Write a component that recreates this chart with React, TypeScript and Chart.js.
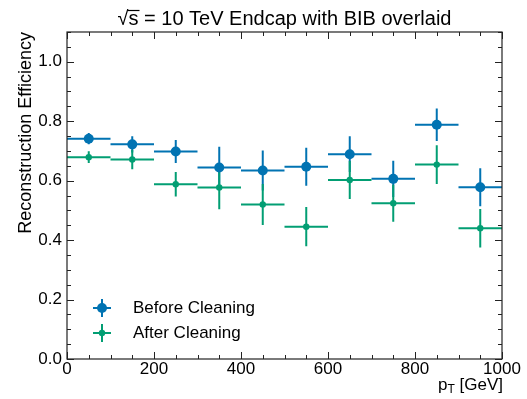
import React, { useEffect, useRef } from "react";
import { Chart, registerables } from "chart.js";

Chart.register(...registerables);

const binCenters = [50, 150, 250, 350, 450, 550, 650, 750, 850, 950];
const binHalfWidth = 50;
const beforeValues = [0.741, 0.722, 0.698, 0.644, 0.634, 0.647, 0.689, 0.606, 0.788, 0.578];
const beforeErrors = [0.019, 0.027, 0.039, 0.07, 0.067, 0.064, 0.06, 0.061, 0.055, 0.064];
const afterValues = [0.679, 0.671, 0.588, 0.577, 0.52, 0.445, 0.602, 0.524, 0.654, 0.44];
const afterErrors = [0.02, 0.033, 0.041, 0.073, 0.069, 0.066, 0.064, 0.062, 0.065, 0.065];
const seriesLabels = ["Before Cleaning", "After Cleaning"];
const seriesColors = ["#0173B2", "#029E73"];
const markerRadii = [5, 3.2];
const xMajorTicks = [0, 200, 400, 600, 800, 1000];
const xMinorStep = 50;
const yMinorStep = 0.05;
const yMajorStep = 0.2;
const titleParts = ["\u221A", "s", " = 10 TeV Endcap with BIB overlaid"];
const yTitle = "Reconstruction Efficiency";
const xTitleParts = ["p", "T", " [GeV]"];

const FONT = '"Liberation Sans", Arial, sans-serif';

export default function App() {
  const ref = useRef<HTMLCanvasElement | null>(null);
  useEffect(() => {
    const canvas = ref.current;
    if (!canvas) return;
    const series = [
      { values: beforeValues, errors: beforeErrors },
      { values: afterValues, errors: afterErrors },
    ];

    const errorPlugin = {
      id: "errbars",
      beforeDatasetsDraw(chart: any) {
        const ctx = chart.ctx;
        const xs = chart.scales.x;
        const ys = chart.scales.y;
        ctx.save();
        ctx.lineWidth = 2;
        series.forEach((s, si) => {
          ctx.strokeStyle = seriesColors[si];
          s.values.forEach((v, i) => {
            const cx = binCenters[i];
            ctx.beginPath();
            ctx.moveTo(xs.getPixelForValue(cx - binHalfWidth), ys.getPixelForValue(v));
            ctx.lineTo(xs.getPixelForValue(cx + binHalfWidth), ys.getPixelForValue(v));
            ctx.moveTo(xs.getPixelForValue(cx), ys.getPixelForValue(v - s.errors[i]));
            ctx.lineTo(xs.getPixelForValue(cx), ys.getPixelForValue(v + s.errors[i]));
            ctx.stroke();
          });
        });
        ctx.restore();
      },
      afterDraw(chart: any) {
        const ctx = chart.ctx;
        const xs = chart.scales.x;
        const ys = chart.scales.y;
        const a = chart.chartArea;
        ctx.save();
        // frame
        ctx.strokeStyle = "#222";
        ctx.lineWidth = 1.2;
        ctx.strokeRect(a.left, a.top, a.right - a.left, a.bottom - a.top);
        // ticks
        ctx.lineWidth = 1;
        ctx.beginPath();
        for (let v = xs.min; v <= xs.max + 1e-9; v += xMinorStep) {
          const px = Math.round(xs.getPixelForValue(v)) + 0.5;
          const major = xMajorTicks.includes(Math.round(v));
          const len = major ? 7 : 4;
          ctx.moveTo(px, a.bottom);
          ctx.lineTo(px, a.bottom - len);
          ctx.moveTo(px, a.top);
          ctx.lineTo(px, a.top + len);
        }
        for (let k = 0; k * yMinorStep <= ys.max + 1e-9; k++) {
          const v = k * yMinorStep;
          const py = Math.round(ys.getPixelForValue(v)) + 0.5;
          const major = k % Math.round(yMajorStep / yMinorStep) === 0;
          const len = major ? 7 : 4;
          ctx.moveTo(a.left, py);
          ctx.lineTo(a.left + len, py);
          ctx.moveTo(a.right, py);
          ctx.lineTo(a.right - len, py);
        }
        ctx.stroke();

        // title
        ctx.fillStyle = "#000";
        ctx.font = `20px ${FONT}`;
        ctx.textBaseline = "alphabetic";
        ctx.textAlign = "left";
        const widths = titleParts.map((p) => ctx.measureText(p).width);
        const total = widths.reduce((s, w) => s + w, 0);
        let tx = (a.left + a.right) / 2 - total / 2;
        const tBase = 25;
        titleParts.forEach((p, i) => {
          ctx.fillText(p, tx, tBase);
          if (i === 1) {
            ctx.strokeStyle = "#000";
            ctx.lineWidth = 1.2;
            ctx.beginPath();
            ctx.moveTo(tx - 1, tBase - 14.5);
            ctx.lineTo(tx + widths[i] + 1, tBase - 14.5);
            ctx.stroke();
          }
          tx += widths[i];
        });

        // y title
        ctx.save();
        ctx.font = `18px ${FONT}`;
        ctx.translate(31, a.top);
        ctx.rotate(-Math.PI / 2);
        ctx.textAlign = "right";
        ctx.fillText(yTitle, 0, 0);
        ctx.restore();

        // x title
        ctx.font = `17px ${FONT}`;
        const wp = ctx.measureText(xTitleParts[0]).width;
        const wb = ctx.measureText(xTitleParts[2]).width;
        ctx.font = `12px ${FONT}`;
        const wt = ctx.measureText(xTitleParts[1]).width;
        let xx = a.right + 1 - (wp + wt + wb);
        const xBase = 390;
        ctx.textAlign = "left";
        ctx.font = `17px ${FONT}`;
        ctx.fillText(xTitleParts[0], xx, xBase);
        xx += wp;
        ctx.font = `12px ${FONT}`;
        ctx.fillText(xTitleParts[1], xx, xBase + 3);
        xx += wt;
        ctx.font = `17px ${FONT}`;
        ctx.fillText(xTitleParts[2], xx, xBase);

        // legend
        const lx = 102;
        const rows = [308, 333];
        seriesLabels.forEach((lab, i) => {
          const ly = rows[i];
          ctx.strokeStyle = seriesColors[i];
          ctx.fillStyle = seriesColors[i];
          ctx.lineWidth = 2;
          ctx.beginPath();
          ctx.moveTo(lx - 9, ly);
          ctx.lineTo(lx + 9, ly);
          ctx.moveTo(lx, ly - 9);
          ctx.lineTo(lx, ly + 9);
          ctx.stroke();
          ctx.beginPath();
          ctx.arc(lx, ly, markerRadii[i], 0, Math.PI * 2);
          ctx.fill();
          ctx.fillStyle = "#000";
          ctx.font = `17px ${FONT}`;
          ctx.textBaseline = "middle";
          ctx.fillText(lab, 133, ly);
        });
        ctx.restore();
      },
    };

    const chart = new Chart(canvas, {
      type: "scatter",
      data: {
        datasets: seriesLabels.map((lab, si) => ({
          label: lab,
          data: binCenters.map((x, i) => ({ x, y: si === 0 ? beforeValues[i] : afterValues[i] })),
          backgroundColor: seriesColors[si],
          borderColor: seriesColors[si],
          pointRadius: markerRadii[si],
          pointBorderWidth: 0,
          order: si === 0 ? 1 : 0,
        })),
      },
      options: {
        responsive: false,
        animation: false,
        layout: { padding: { top: 32, right: 25, left: 0, bottom: 0 } },
        plugins: { legend: { display: false }, title: { display: false }, tooltip: { enabled: false } },
        scales: {
          x: {
            type: "linear",
            min: 0,
            max: 1000,
            grid: { display: false, drawTicks: false },
            border: { display: false },
            ticks: {
              stepSize: 200,
              padding: 0,
              maxRotation: 0,
              color: "#000",
              font: { size: 17, family: FONT },
              callback: (v: any) => String(v),
            },
            afterFit: (s: any) => {
              s.height = 40;
            },
          },
          y: {
            type: "linear",
            min: 0,
            max: 1.1,
            grid: { display: false, drawTicks: false },
            border: { display: false },
            ticks: {
              stepSize: 0.2,
              includeBounds: false,
              padding: 5,
              color: "#000",
              font: { size: 17, family: FONT },
              callback: (v: any) => Number(v).toFixed(1),
            },
            afterFit: (s: any) => {
              s.width = 67;
            },
          },
        },
      },
      plugins: [errorPlugin],
    } as any);
    return () => chart.destroy();
  }, []);

  return (
    <div style={{ position: "fixed", left: 0, top: 0, width: 527, height: 399, background: "#fff" }}>
      <canvas ref={ref} width={527} height={399} />
    </div>
  );
}
